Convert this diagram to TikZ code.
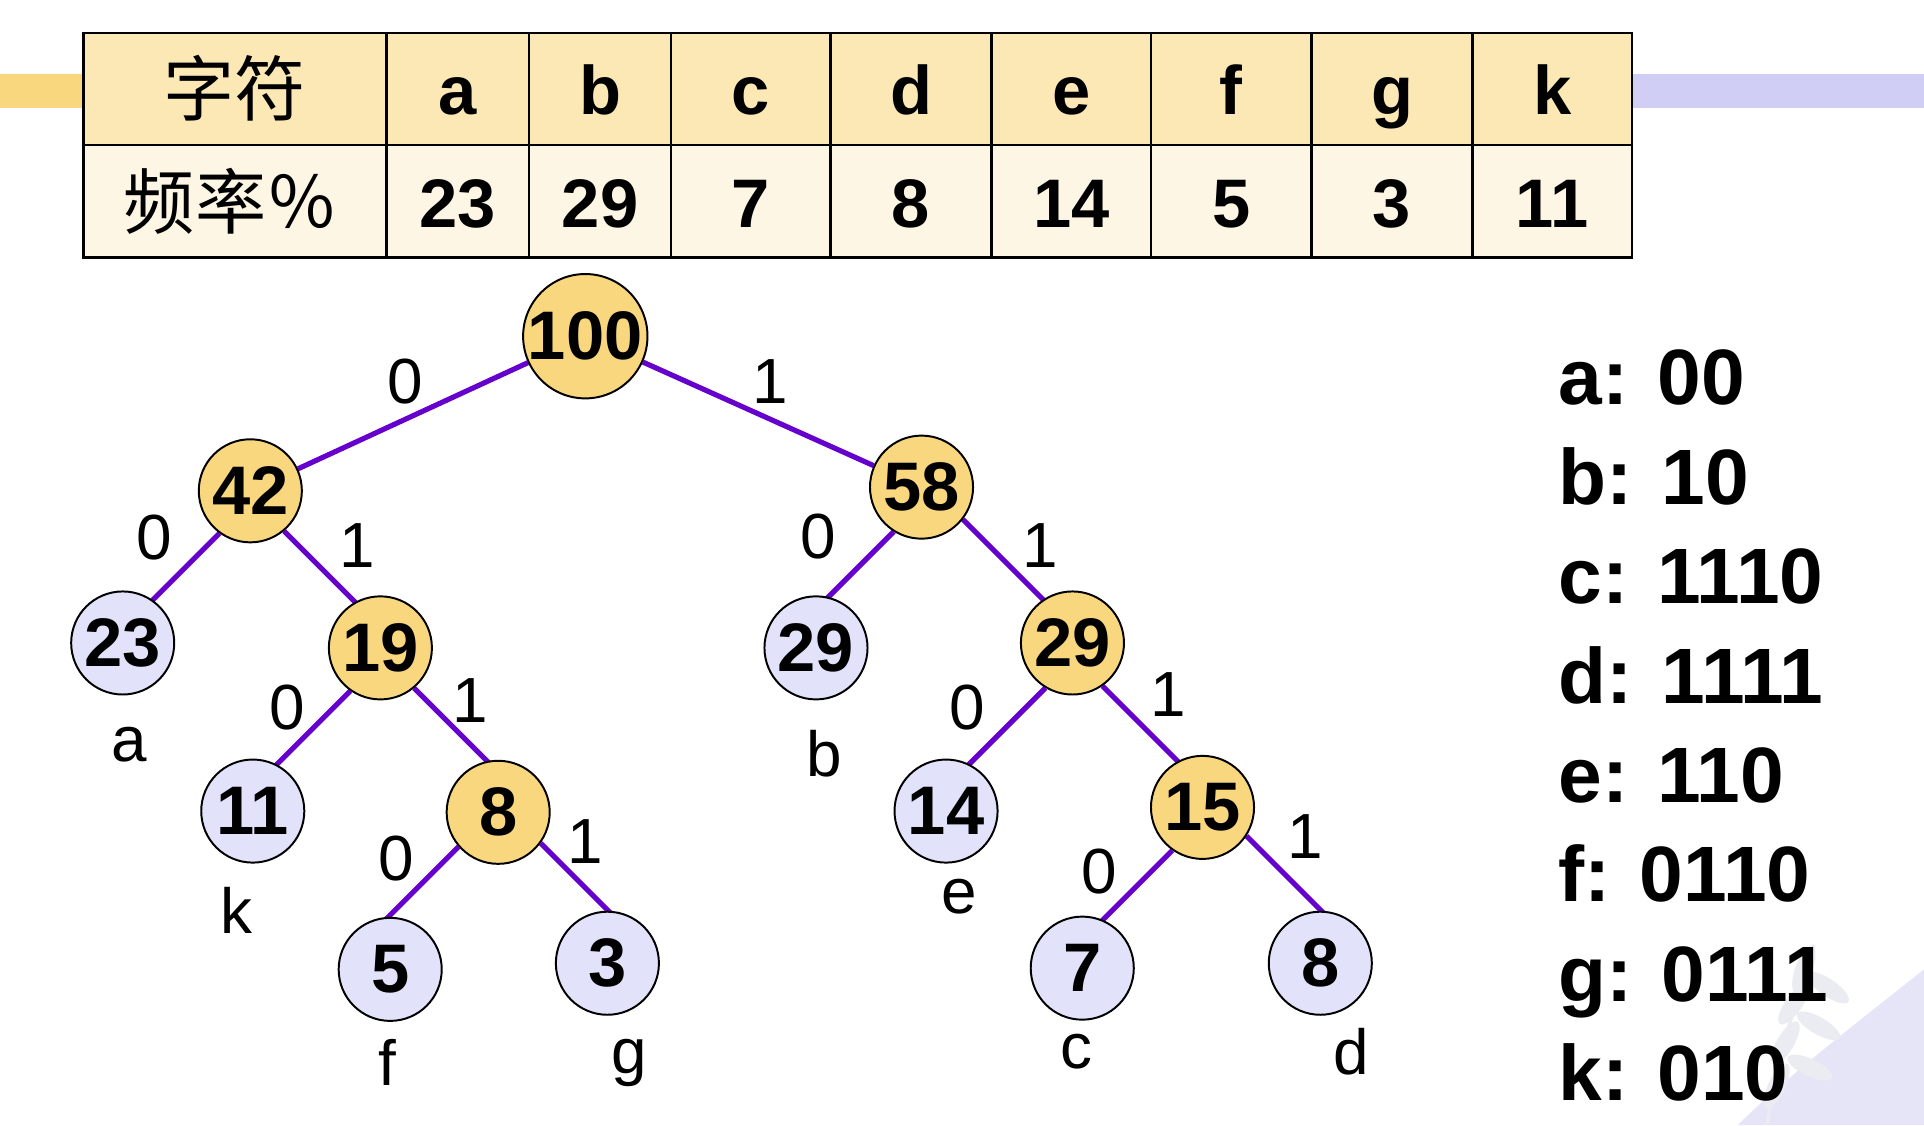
\documentclass[tikz,border=0pt]{standalone}
\usepackage{fontspec}
\usetikzlibrary{calc}
\setmainfont{Liberation Sans}
\newfontfamily\cjkfont{Noto Sans CJK SC}
\definecolor{barorange}{HTML}{F8D77F}
\definecolor{barlav}{HTML}{D0CEF5}
\definecolor{headfill}{HTML}{FBE8B5}
\definecolor{rowfill}{HTML}{FEF6E4}
\definecolor{innerfill}{HTML}{F9D77E}
\definecolor{leaffill}{HTML}{E2E2FA}
\definecolor{edgecol}{HTML}{6600CC}
\definecolor{swoosh}{HTML}{E6E5F7}
\definecolor{leafmark}{HTML}{EBEBF2}
\pgfdeclarelayer{background}
\pgfsetlayers{background,main}
\begin{document}
\begin{tikzpicture}[x=1pt,y=-1pt,
  cell/.style={font=\fontsize{56}{60}\selectfont\bfseries, inner sep=0pt},
  cjkcell/.style={font=\fontsize{58}{62}\selectfont\cjkfont, inner sep=0pt},
  inner/.style={circle, draw=black, line width=1.6pt, fill=innerfill, minimum size=84pt, inner sep=0pt, font=\fontsize{56}{60}\selectfont\bfseries},
  rootnode/.style={inner, minimum size=98pt},
  leaf/.style={inner, fill=leaffill},
  edge/.style={draw=edgecol, line width=4.2pt},
  bit/.style={font=\fontsize{52}{56}\selectfont, inner sep=0pt},
  sym/.style={font=\fontsize{52}{56}\selectfont, inner sep=0pt},
  code/.style={font=\fontsize{64}{70}\selectfont\bfseries, inner sep=0pt, anchor=base west}]
\useasboundingbox (0,0) rectangle (1568,917);

% corner decoration
\fill[swoosh] (1568,790) .. controls (1510,836) and (1458,876) .. (1416,917) -- (1568,917) -- cycle;
\draw[leafmark, line width=3pt] (1440,917) .. controls (1450,860) and (1462,820) .. (1478,770);
\foreach \px/\py/\ang in {1455/850/60, 1462/818/55, 1470/790/70, 1482/836/-30, 1490/805/-35, 1475/870/-25, 1448/885/65}
  \fill[leafmark] (\px,\py) ellipse[x radius=20pt, y radius=7pt, rotate=\ang];

% side bars
\fill[barorange] (0,60) rectangle (68,88);
\fill[barlav] (1330,60) rectangle (1568,88);

% frequency table
\fill[headfill] (68,27) rectangle (1330,118);
\fill[rowfill] (68,118) rectangle (1330,210);
\draw[line width=2pt] (68,27) rectangle (1330,210);
\draw[line width=2pt] (68,118) -- (1330,118);
\foreach \cx in {315,431,547,677,808,938,1069,1200}
  \draw[line width=2pt] (\cx,27) -- (\cx,210);

\node[cjkcell] (hname) at (191.5,72) {字符};
\node[cjkcell] (hfreq) at (188,164) {频率％};
\foreach \nm/\cx/\ch/\fq in {ca/373/a/23, cb/489/b/29, cc/612/c/7, cd/742.5/d/8, ce/873/e/14, cf/1003.5/f/5, cg/1134.5/g/3, ck/1265/k/11}{
  \node[cell, anchor=base] (\nm h) at (\cx,93) {\ch};
  \node[cell, anchor=base] (\nm f) at (\cx,185) {\fq};
}

% Huffman tree
\node[rootnode] (n100) at (477,274) {100};
\node[inner] (n42) at (204,400) {42};
\node[inner] (n58) at (751,397) {58};
\node[leaf]  (n23) at (100,524) {23};
\node[inner] (n19) at (310,528) {19};
\node[leaf]  (n29b) at (665,528) {29};
\node[inner] (n29) at (874,524) {29};
\node[leaf]  (n11) at (206,661) {11};
\node[inner] (n8) at (406,662) {8};
\node[leaf]  (n14) at (771,661) {14};
\node[inner] (n15) at (980,658) {15};
\node[leaf]  (n5) at (318,790) {5};
\node[leaf]  (n3) at (495,785) {3};
\node[leaf]  (n7) at (882,789) {7};
\node[leaf]  (n8d) at (1076,785) {8};

% branches: the root's run centre to centre, the others leave the parent
% at a given border angle and run at 45 degrees down to the child
\begin{pgfonlayer}{background}
\draw[edge] (n100) -- (n42);
\draw[edge] (n100) -- (n58);
\foreach \a/\b/\ang/\dx in {n42/n23/-126/-1, n42/n19/-50/1, n58/n29b/-122/-1, n58/n29/-38/1,
                            n19/n11/-125/-1, n19/n8/-50/1, n29/n14/-121/-1, n29/n15/-55/1,
                            n8/n5/-139/-1, n8/n3/-36/1, n15/n7/-125/-1, n15/n8d/-33/1}{
  \path (\a.\ang) ++(\dx,1) coordinate (dirpt);
  \draw[edge] (\a.\ang) -- ($(\a.\ang)!(\b)!(dirpt)$);
}
\end{pgfonlayer}

% branch bits
\node[bit] (b1) at (330,311) {0};
\node[bit] (b2) at (628,311) {1};
\node[bit] (b3) at (126,438) {0};
\node[bit] (b4) at (291,445) {1};
\node[bit] (b5) at (667,437) {0};
\node[bit] (b6) at (848,445) {1};
\node[bit] (b7) at (234,577) {0};
\node[bit] (b8) at (383,571) {1};
\node[bit] (b9) at (788,577) {0};
\node[bit] (b10) at (952,566) {1};
\node[bit] (b11) at (323,700) {0};
\node[bit] (b12) at (477,686) {1};
\node[bit] (b13) at (896,710) {0};
\node[bit] (b14) at (1064,682) {1};

% leaf symbols
\node[sym] (sa) at (105,607) {a};
\node[sym] (sk) at (193,742) {k};
\node[sym] (sb) at (672,614) {b};
\node[sym] (se) at (782,731) {e};
\node[sym] (sf) at (316,866) {f};
\node[sym] (sg) at (513,866) {g};
\node[sym] (sc) at (877,857) {c};
\node[sym] (sd) at (1101,857) {d};

% code table
\node[code] (ka) at (1270,330) {a: 00};
\node[code] (kb) at (1270,411) {b: 10};
\node[code] (kc) at (1270,492) {c: 1110};
\node[code] (kd) at (1270,573) {d: 1111};
\node[code] (ke) at (1270,654) {e: 110};
\node[code] (kf) at (1270,735) {f: 0110};
\node[code] (kg) at (1270,816) {g: 0111};
\node[code] (kk) at (1270,897) {k: 010};
\end{tikzpicture}
\end{document}
